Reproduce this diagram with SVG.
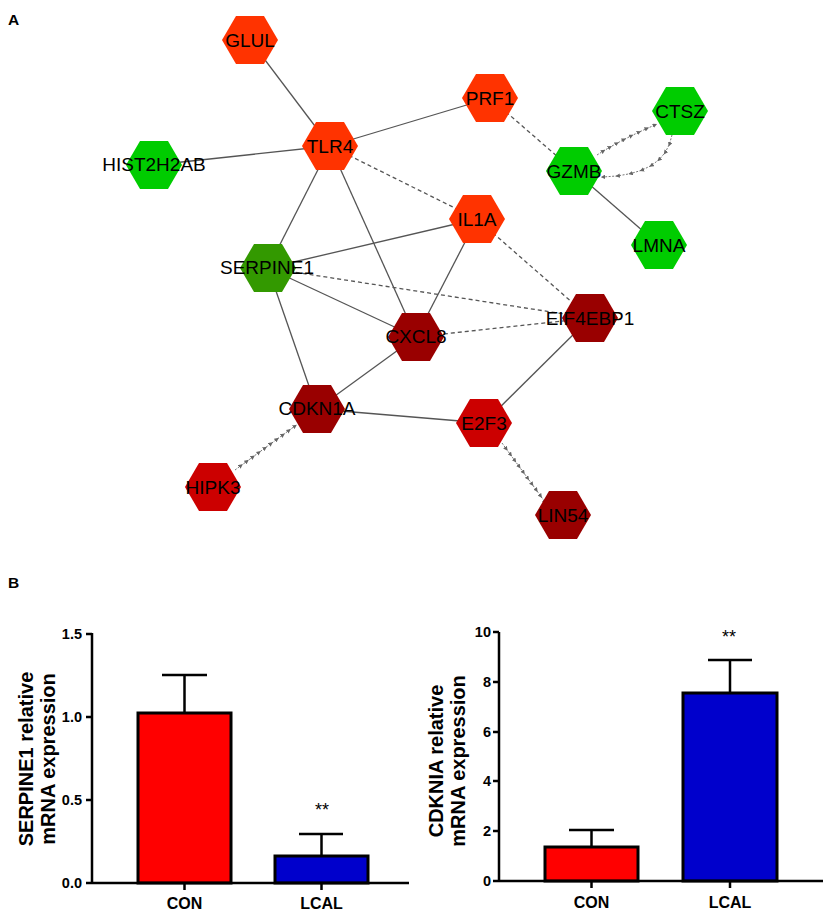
<svg xmlns="http://www.w3.org/2000/svg" xmlns:xlink="http://www.w3.org/1999/xlink" width="829" height="915" viewBox="0 0 829 915">
<style>
.lbl{font-family:"Liberation Sans",Arial,sans-serif;font-size:19px;text-anchor:middle;fill:#000}
.pl{font-family:"Liberation Sans",Arial,sans-serif;font-size:15.5px;font-weight:bold;fill:#000}
.e{stroke:#555;stroke-width:1.3;fill:none}
.d{stroke:#555;stroke-width:1.3;fill:none;stroke-dasharray:4 3}
.a{stroke:#777;stroke-width:1;fill:none;stroke-dasharray:2 1.5;marker-mid:url(#ah);marker-end:url(#ah)}
.or{fill:#FF3300}.gr{fill:#00CC00}.dg{fill:#339900}.dr{fill:#990000}.rd{fill:#CC0000}
.ax{stroke:#000;stroke-width:2.5;fill:none}
.bar{stroke:#000;stroke-width:3}
.tk{font-family:"Liberation Sans",Arial,sans-serif;font-size:14.5px;font-weight:bold;text-anchor:end;fill:#000}
.xl{font-family:"Liberation Sans",Arial,sans-serif;font-size:16px;font-weight:bold;text-anchor:middle;fill:#000}
.yt{font-family:"Liberation Sans",Arial,sans-serif;font-size:20px;font-weight:bold;text-anchor:middle;fill:#000}
.st{font-family:"Liberation Sans",Arial,sans-serif;font-size:18px;text-anchor:middle;fill:#000}
</style>
<defs>
<polygon id="hex" points="-28,0 -14,-24 14,-24 28,0 14,24 -14,24"/>
<marker id="ah" viewBox="0 0 6 6" refX="3" refY="3" markerWidth="4.5" markerHeight="4.5" markerUnits="userSpaceOnUse" orient="auto">
<path d="M0,0 L6,3 L0,6 z" fill="#666"/>
</marker>
</defs>
<rect width="829" height="915" fill="#fff"/>
<text class="pl" x="8" y="25">A</text>
<g id="connectors">
<line class="e" x1="250" y1="40" x2="330" y2="146"/>
<line class="e" x1="330" y1="146" x2="154" y2="165"/>
<line class="e" x1="330" y1="146" x2="490" y2="98"/>
<line class="e" x1="330" y1="146" x2="268" y2="268"/>
<line class="e" x1="330" y1="146" x2="416" y2="337"/>
<line class="e" x1="268" y1="268" x2="477" y2="219"/>
<line class="e" x1="268" y1="268" x2="416" y2="337"/>
<line class="e" x1="268" y1="268" x2="317" y2="409"/>
<line class="e" x1="477" y1="219" x2="416" y2="337"/>
<line class="e" x1="416" y1="337" x2="317" y2="409"/>
<line class="e" x1="317" y1="409" x2="484" y2="423"/>
<line class="e" x1="484" y1="423" x2="590" y2="318"/>
<line class="e" x1="574" y1="171" x2="659" y2="245"/>
<line class="d" x1="330" y1="146" x2="477" y2="219"/>
<line class="d" x1="490" y1="98" x2="574" y2="171"/>
<line class="d" x1="477" y1="219" x2="590" y2="318"/>
<line class="d" x1="268" y1="268" x2="590" y2="318"/>
<line class="d" x1="416" y1="337" x2="590" y2="318"/>
<polyline class="a" points="235,470 241,465.6 247,461.2 253,456.8 259,452.4 265,448 271,443.6 277,439.2 283,434.8 289,430.4 295,426"/>
<polyline class="a" points="502,443 506.3,448.9 510.6,454.8 514.9,460.7 519.2,466.6 523.5,472.5 527.8,478.4 532.1,484.3 536.4,490.2 540.7,496.1 545,502"/>
<polyline class="a" points="597,155 603.4,151 610,147.1 616.9,143.3 624,139.5 631.4,135.8 639,132.1 646.9,128.5 655,125"/>
<polyline class="a" points="672,135 669.4,144.4 665.1,152.6 659,159.7 651.3,165.5 641.8,170.2 630.6,173.6 617.6,175.9 603,177"/>
</g>
<g id="GLUL"><use href="#hex" class="or" transform="translate(250,40)"/><text class="lbl" x="250" y="47">GLUL</text></g>
<g id="TLR4"><use href="#hex" class="or" transform="translate(330,146)"/><text class="lbl" x="330" y="153">TLR4</text></g>
<g id="HIST2H2AB"><use href="#hex" class="gr" transform="translate(154,165)"/><text class="lbl" x="154" y="171">HIST2H2AB</text></g>
<g id="SERPINE1"><use href="#hex" class="dg" transform="translate(268,268)"/><text class="lbl" x="267" y="274">SERPINE1</text></g>
<g id="PRF1"><use href="#hex" class="or" transform="translate(490,98)"/><text class="lbl" x="490" y="105">PRF1</text></g>
<g id="CTSZ"><use href="#hex" class="gr" transform="translate(680,111)"/><text class="lbl" x="680" y="118">CTSZ</text></g>
<g id="GZMB"><use href="#hex" class="gr" transform="translate(574,171)"/><text class="lbl" x="574" y="178">GZMB</text></g>
<g id="IL1A"><use href="#hex" class="or" transform="translate(477,219)"/><text class="lbl" x="477" y="226">IL1A</text></g>
<g id="LMNA"><use href="#hex" class="gr" transform="translate(659,245)"/><text class="lbl" x="659" y="252">LMNA</text></g>
<g id="CXCL8"><use href="#hex" class="dr" transform="translate(416,337)"/><text class="lbl" x="416" y="343">CXCL8</text></g>
<g id="EIF4EBP1"><use href="#hex" class="dr" transform="translate(590,318)"/><text class="lbl" x="590" y="325">EIF4EBP1</text></g>
<g id="CDKN1A"><use href="#hex" class="dr" transform="translate(317,409)"/><text class="lbl" x="317" y="415">CDKN1A</text></g>
<g id="E2F3"><use href="#hex" class="rd" transform="translate(484,423)"/><text class="lbl" x="484" y="430">E2F3</text></g>
<g id="HIPK3"><use href="#hex" class="rd" transform="translate(213,487)"/><text class="lbl" x="213" y="494">HIPK3</text></g>
<g id="LIN54"><use href="#hex" class="dr" transform="translate(563,515)"/><text class="lbl" x="563" y="522">LIN54</text></g>

<text class="pl" x="8" y="588">B</text>
<g id="chart-serpine1">
<rect class="bar" x="138" y="713" width="93" height="170" fill="#FF0000"/>
<rect class="bar" x="275" y="856" width="93" height="27" fill="#0000CC"/>
<path class="ax" d="M184.5,713 V675 M162,675 H207 M321.5,856 V834 M299,834 H343"/>
<path class="ax" d="M92,633 V883 H409 M86,634 H92 M86,717 H92 M86,800 H92 M86,883 H92 M184.5,883 V890 M321.5,883 V890"/>
<text class="tk" x="82" y="639">1.5</text>
<text class="tk" x="82" y="722">1.0</text>
<text class="tk" x="82" y="805">0.5</text>
<text class="tk" x="82" y="888">0.0</text>
<text class="st" x="322" y="816">**</text>
<text class="xl" x="184.5" y="909">CON</text>
<text class="xl" x="321.5" y="909">LCAL</text>
<text class="yt" transform="translate(33,759) rotate(-90)">SERPINE1 relative</text>
<text class="yt" transform="translate(55,759) rotate(-90)">mRNA expression</text>
</g>
<g id="chart-cdkn1a">
<rect class="bar" x="545" y="847" width="93" height="34" fill="#FF0000"/>
<rect class="bar" x="683" y="693" width="94" height="188" fill="#0000CC"/>
<path class="ax" d="M591.5,847 V830 M569,830 H614 M730,693 V660 M708,660 H752"/>
<path class="ax" d="M499,632 V881 H823 M493,632 H499 M493,682 H499 M493,732 H499 M493,781 H499 M493,831 H499 M493,881 H499 M591.5,881 V888 M730,881 V888"/>
<text class="tk" x="491" y="637">10</text>
<text class="tk" x="491" y="687">8</text>
<text class="tk" x="491" y="737">6</text>
<text class="tk" x="491" y="786">4</text>
<text class="tk" x="491" y="836">2</text>
<text class="tk" x="491" y="886">0</text>
<text class="st" x="729" y="643">**</text>
<text class="xl" x="591.5" y="908">CON</text>
<text class="xl" x="730" y="908">LCAL</text>
<text class="yt" transform="translate(443,761) rotate(-90)">CDKNIA relative</text>
<text class="yt" transform="translate(465,761) rotate(-90)">mRNA expression</text>
</g>
</svg>
